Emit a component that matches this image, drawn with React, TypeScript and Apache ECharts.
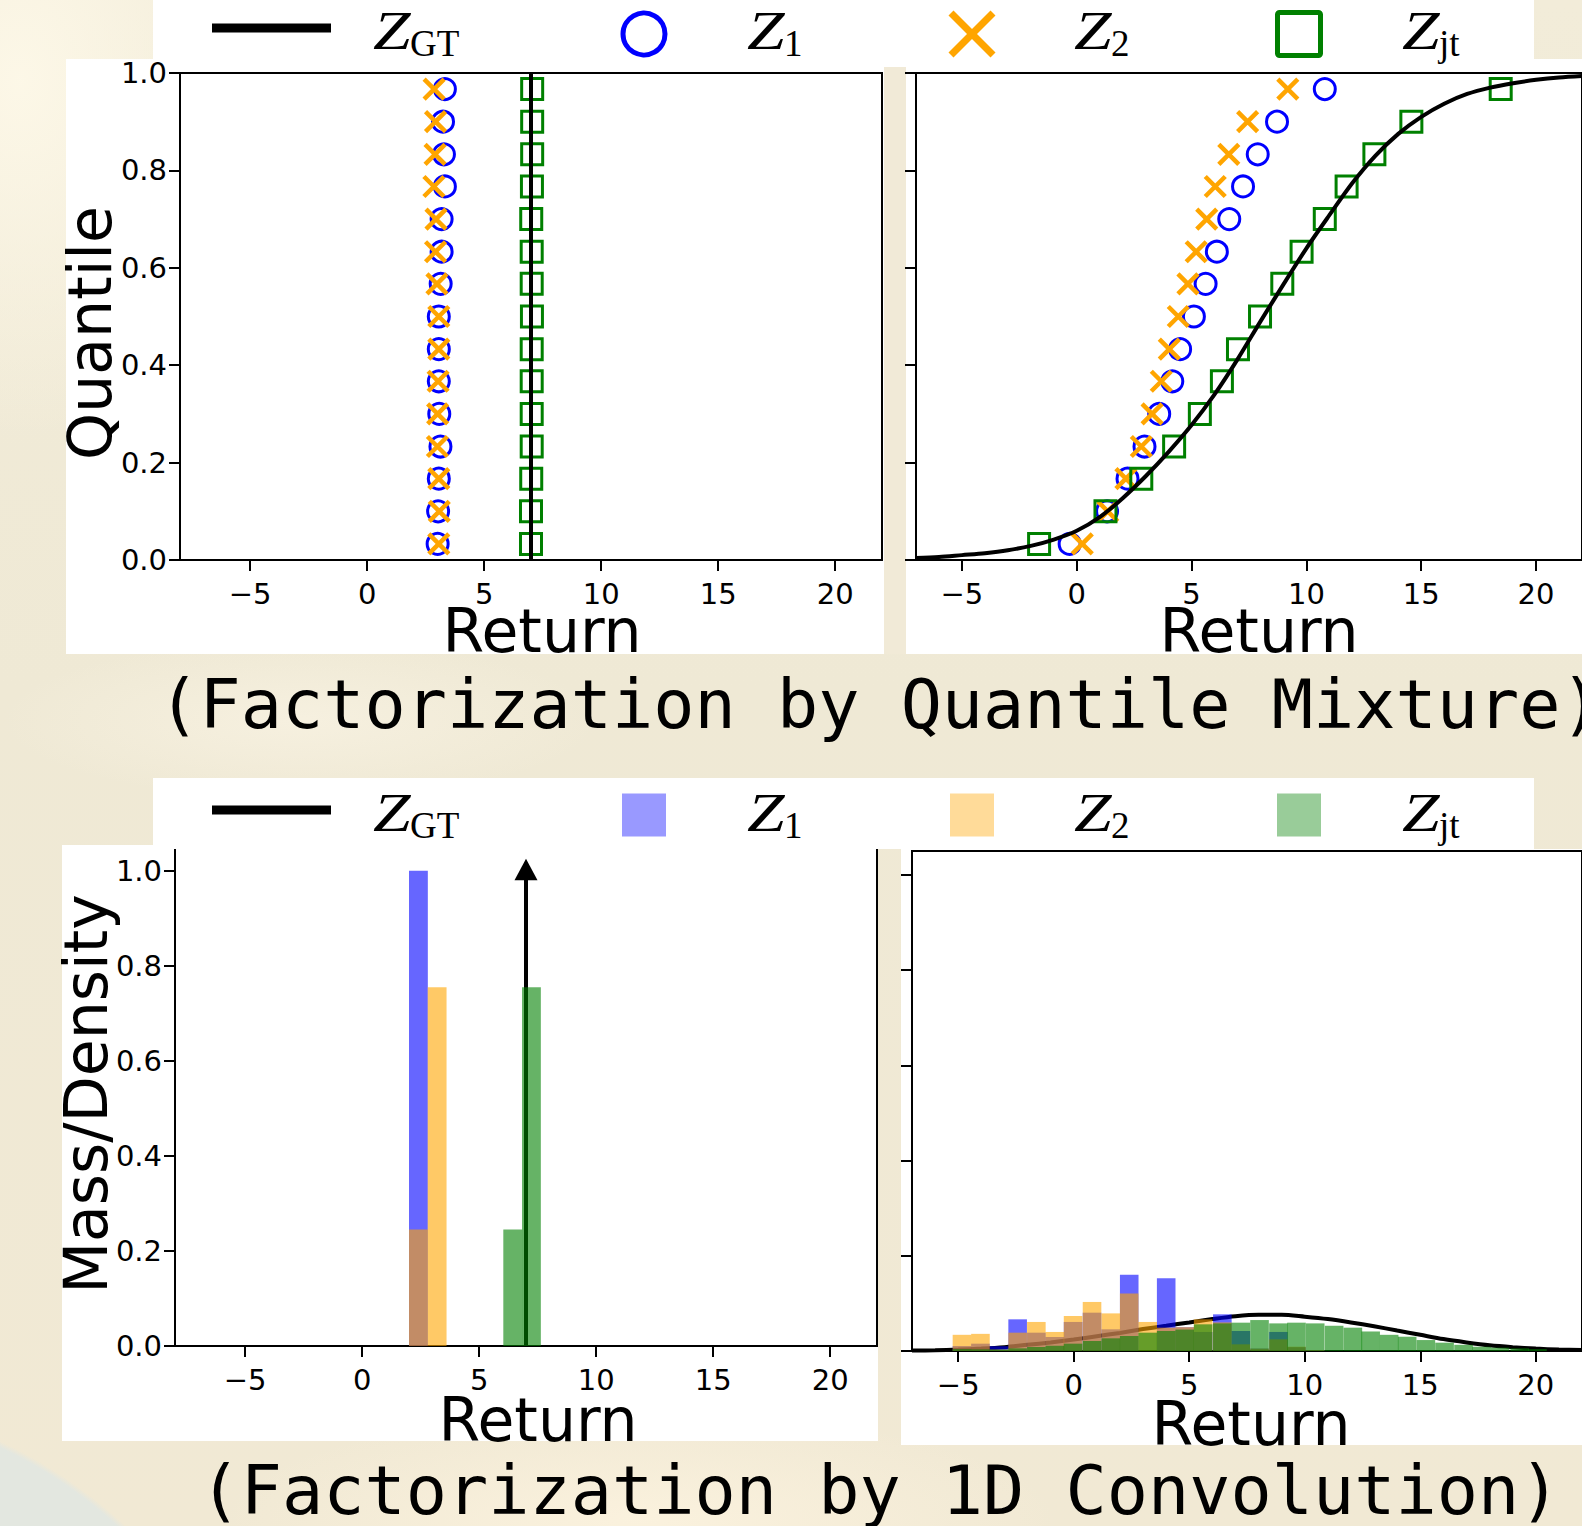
import React, { useEffect, useRef } from "react";
import * as echarts from "echarts";

const W = 1582;
const H = 1526;

// ---------- data ----------
const quantileLevels = [0.033, 0.1, 0.167, 0.233, 0.3, 0.367, 0.433, 0.5, 0.567, 0.633, 0.7, 0.767, 0.833, 0.9, 0.967];

// Factorization by quantile mixture, left panel
const qmLeftZ1 = [3.01, 3.03, 3.06, 3.13, 3.08, 3.06, 3.06, 3.06, 3.14, 3.18, 3.18, 3.32, 3.28, 3.24, 3.32];
const qmLeftZ2 = [3.06, 3.08, 3.06, 3.0, 3.01, 3.03, 3.06, 3.06, 2.98, 2.92, 2.94, 2.85, 2.9, 2.92, 2.86];
const qmLeftZjt = [7.0, 7.0, 7.01, 7.03, 7.03, 7.03, 7.03, 7.04, 7.03, 7.03, 7.01, 7.04, 7.05, 7.05, 7.05];
const qmLeftGtX = [7.0, 7.0];
const qmLeftGtY = [0, 1];

// Factorization by quantile mixture, right panel
const qmRightZ1 = [-0.31, 1.32, 2.21, 2.95, 3.59, 4.16, 4.5, 5.1, 5.61, 6.1, 6.64, 7.24, 7.88, 8.72, 10.8];
const qmRightZ2 = [0.24, 1.35, 2.14, 2.81, 3.28, 3.68, 4.03, 4.42, 4.84, 5.2, 5.66, 6.03, 6.62, 7.44, 9.19];
const qmRightZjt = [-1.64, 1.25, 2.81, 4.24, 5.36, 6.32, 7.02, 7.98, 8.95, 9.79, 10.8, 11.75, 12.96, 14.57, 18.46];
const gtX = [-7, -6, -5, -4, -3, -2, -1, 0, 1, 2, 3, 4, 5, 6, 7, 8, 9, 10, 11, 12, 13, 14, 15, 16, 17, 18, 19, 20, 21, 22];
const gtCdf = [0.004, 0.006, 0.01, 0.014, 0.02, 0.029, 0.042, 0.06, 0.088, 0.127, 0.172, 0.222, 0.277, 0.34, 0.412, 0.49, 0.566, 0.64, 0.708, 0.774, 0.83, 0.875, 0.91, 0.937, 0.957, 0.97, 0.979, 0.986, 0.991, 0.994];

// Factorization by 1D convolution, left panel (bin left edge, mass)
const convLeftBins = [2.0, 2.8, 6.03, 6.83];
const convLeftZ1 = [1.0, 0, 0, 0];
const convLeftZ2 = [0.245, 0.755, 0, 0];
const convLeftZjt = [0, 0, 0.245, 0.755];
const convLeftGtAt = [7.0];
const convLeftGtMass = [1.0];

// Factorization by 1D convolution, right panel
const binLeft = [-5.24, -4.44, -3.63, -2.83, -2.02, -1.22, -0.43, 0.39, 1.2, 2.0, 2.8, 3.6, 4.4, 5.2, 6.03, 6.83, 7.64, 8.46, 9.24, 10.05, 10.87, 11.68, 12.45, 13.25, 14.03, 14.84, 15.65, 16.47, 17.25, 18.05, 18.9, 19.67];
const BIN_W = 0.805;
const convRightZ1 = [0.0105, 0.0154, 0.01, 0.0665, 0.0385, 0.0294, 0.061, 0.0805, 0.0455, 0.16, 0, 0.153, 0.05, 0.04, 0.077, 0.042, 0.005, 0.04, 0.008, 0.002, 0, 0, 0, 0, 0, 0, 0, 0, 0, 0, 0, 0];
const convRightZ2 = [0.034, 0.036, 0.003, 0.0385, 0.061, 0.04, 0.0735, 0.103, 0.079, 0.121, 0.061, 0.049, 0.05, 0.0665, 0.06, 0.014, 0.005, 0.0245, 0.009, 0.002, 0, 0, 0, 0, 0, 0, 0, 0, 0, 0, 0, 0];
const convRightZjt = [0.004, 0.0035, 0.003, 0.0056, 0.0084, 0.011, 0.0154, 0.021, 0.0266, 0.0315, 0.0385, 0.042, 0.045, 0.056, 0.058, 0.0595, 0.065, 0.058, 0.0595, 0.058, 0.053, 0.049, 0.041, 0.034, 0.03, 0.023, 0.0175, 0.013, 0.009, 0.007, 0.0056, 0.004];
const gtDensity = [0.001, 0.0015, 0.003, 0.005, 0.008, 0.013, 0.018, 0.024, 0.031, 0.038, 0.046, 0.053, 0.06, 0.067, 0.073, 0.076, 0.076, 0.072, 0.067, 0.06, 0.052, 0.043, 0.034, 0.025, 0.018, 0.012, 0.008, 0.005, 0.003, 0.002];

const xTickValues = [-5, 0, 5, 10, 15, 20];
const yTickValues = [0, 0.2, 0.4, 0.6, 0.8, 1.0];

const titleTop = "(Factorization by Quantile Mixture)";
const titleBottom = "(Factorization by 1D Convolution)";
const legendSubs = ["GT", "1", "2", "jt"];

// ---------- styles ----------
const BLUE = "#0000ff";
const ORANGE = "#ffa500";
const GREEN = "#008000";
const BAR_BLUE = "rgba(0,0,255,0.6)";
const BAR_ORANGE = "rgba(255,165,0,0.6)";
const BAR_GREEN = "rgba(0,128,0,0.6)";
const PATCH_BLUE = "rgba(0,0,255,0.4)";
const PATCH_ORANGE = "rgba(255,165,0,0.4)";
const PATCH_GREEN = "rgba(0,128,0,0.4)";
const X_PATH = "path://M0,0L20,20M20,0L0,20";
const SANS = "DejaVu Sans";
const MONO = "DejaVu Sans Mono";
const SERIF = "Liberation Serif";

const fmtX = (v: number) => (v < 0 ? "\u2212" + Math.abs(v) : String(v));

function xAxis(gridIndex: number, min: number, max: number) {
  return {
    type: "value",
    gridIndex,
    min,
    max,
    axisLine: { show: true, onZero: false, lineStyle: { color: "#000", width: 2 } },
    axisTick: { show: true, length: 11, customValues: xTickValues, lineStyle: { color: "#000", width: 2 } },
    axisLabel: {
      show: true,
      customValues: xTickValues,
      fontFamily: SANS,
      fontSize: 29,
      color: "#000",
      margin: 19,
      formatter: fmtX,
    },
    splitLine: { show: false },
  };
}

function yAxis(gridIndex: number, max: number, showLabels: boolean) {
  return {
    type: "value",
    gridIndex,
    min: 0,
    max,
    axisLine: { show: true, onZero: false, lineStyle: { color: "#000", width: 2 } },
    axisTick: { show: true, length: 11, customValues: yTickValues, lineStyle: { color: "#000", width: 2 } },
    axisLabel: {
      show: showLabels,
      customValues: yTickValues,
      fontFamily: SANS,
      fontSize: 29,
      color: "#000",
      margin: 13,
      formatter: (v: number) => v.toFixed(1),
    },
    splitLine: { show: false },
  };
}

function grid(left: number, top: number, width: number, height: number) {
  return { left, top, width, height, show: true, borderColor: "#000", borderWidth: 2, backgroundColor: "transparent", containLabel: false };
}

function scatter(idx: number, xs: number[], symbol: string, size: number, color: string, bw: number, z: number) {
  return {
    type: "scatter",
    xAxisIndex: idx,
    yAxisIndex: idx,
    silent: true,
    data: xs.map((x, i) => [x, quantileLevels[i]]),
    symbol,
    symbolSize: size,
    itemStyle: { color: "rgba(0,0,0,0)", borderColor: color, borderWidth: bw, opacity: 1 },
    z,
  };
}

function bars(idx: number, lefts: number[], heights: number[], color: string, z: number) {
  return {
    type: "custom",
    xAxisIndex: idx,
    yAxisIndex: idx,
    silent: true,
    z,
    encode: { x: 0, y: 1 },
    data: lefts.map((l, i) => [l, heights[i]]),
    renderItem: (_p: any, api: any) => {
      const x0 = api.value(0);
      const h = api.value(1);
      if (!h) return null;
      const a = api.coord([x0, h]);
      const b = api.coord([x0 + BIN_W, 0]);
      return {
        type: "rect",
        shape: { x: a[0], y: a[1], width: b[0] - a[0], height: b[1] - a[1] },
        style: { fill: color },
      };
    },
  };
}

function txt(x: number, y: number, text: string, font: string, extra: any = {}) {
  return {
    type: "text",
    x,
    y,
    z: 100,
    silent: true,
    ...extra,
    style: {
      text,
      font,
      fill: "#000",
      align: extra.align || "left",
      textAlign: extra.align || "left",
      verticalAlign: "middle",
      textVerticalAlign: "middle",
    },
  };
}

function legend(dy: number, kind: "marker" | "patch") {
  const els: any[] = [];
  els.push({ type: "rect", z: 50, silent: true, shape: { x: 153, y: dy === 0 ? 0 : 778, width: 1381, height: dy === 0 ? 59 : 71 }, style: { fill: "#fff" } });
  els.push({ type: "line", z: 100, silent: true, shape: { x1: 212, y1: 28 + dy, x2: 331, y2: 28 + dy }, style: { stroke: "#000", lineWidth: 9 } });
  const cy = 34 + dy;
  if (kind === "marker") {
    els.push({ type: "circle", z: 100, silent: true, shape: { cx: 644, cy, r: 21 }, style: { fill: "none", stroke: BLUE, lineWidth: 5 } });
    els.push({ type: "line", z: 100, silent: true, shape: { x1: 951, y1: cy - 21, x2: 993, y2: cy + 21 }, style: { stroke: ORANGE, lineWidth: 7 } });
    els.push({ type: "line", z: 100, silent: true, shape: { x1: 993, y1: cy - 21, x2: 951, y2: cy + 21 }, style: { stroke: ORANGE, lineWidth: 7 } });
    els.push({ type: "rect", z: 100, silent: true, shape: { x: 1277.5, y: cy - 21.5, width: 43, height: 43, r: 2 }, style: { fill: "none", stroke: GREEN, lineWidth: 5 } });
  } else {
    const pc = 815 - 782 + dy;
    els.push({ type: "rect", z: 100, silent: true, shape: { x: 622, y: pc - 21.5, width: 44, height: 43 }, style: { fill: PATCH_BLUE } });
    els.push({ type: "rect", z: 100, silent: true, shape: { x: 950, y: pc - 21.5, width: 44, height: 43 }, style: { fill: PATCH_ORANGE } });
    els.push({ type: "rect", z: 100, silent: true, shape: { x: 1277, y: pc - 21.5, width: 44, height: 43 }, style: { fill: PATCH_GREEN } });
  }
  const zLeft = [373, 747, 1074, 1402];
  zLeft.forEach((zx, i) => {
    els.push(txt(zx, 49 + dy - 0.3375 * 54, "Z", `italic 54px "${SERIF}"`, { scaleX: 1.25 }));
    els.push(txt(zx + 37, 56 + dy - 0.3375 * 37, legendSubs[i], `37px "${SERIF}"`));
  });
  return els;
}

const BG = [
  "radial-gradient(circle at -200px 1873px, #e3e7e0 0px, #e3e7e0 470px, rgba(227,231,224,0) 476px)",
  "radial-gradient(ellipse 260px 360px at 20px 80px, rgba(253,248,232,0.95), rgba(253,248,232,0) 100%)",
  "radial-gradient(ellipse 420px 110px at 640px 1520px, rgba(251,242,222,0.95), rgba(251,242,222,0) 100%)",
  "radial-gradient(ellipse 300px 80px at 300px 720px, rgba(248,242,226,0.8), rgba(248,242,226,0) 100%)",
  "linear-gradient(180deg, #f2ecd9 0%, #efe9d5 45%, #f1e9d4 100%)",
].join(",");

function buildOption() {
  const graphics: any[] = [
    // panels
    { type: "rect", z: -10, silent: true, shape: { x: 66, y: 59, width: 1516, height: 595 }, style: { fill: "#fff" } },
    { type: "rect", z: -9, silent: true, shape: { x: 884, y: 67, width: 22, height: 587 }, style: { fill: "#f1ead7" } },
    { type: "rect", z: -10, silent: true, shape: { x: 62, y: 845, width: 816, height: 596 }, style: { fill: "#fff" } },
    { type: "rect", z: -10, silent: true, shape: { x: 901, y: 849, width: 681, height: 596 }, style: { fill: "#fff" } },
    ...legend(0, "marker"),
    ...legend(782, "patch"),
    // axis titles
    txt(542, 631, "Return", `60px "${SANS}"`, { align: "center" }),
    txt(1259, 631, "Return", `60px "${SANS}"`, { align: "center" }),
    txt(538, 1420, "Return", `60px "${SANS}"`, { align: "center" }),
    txt(1251, 1424, "Return", `60px "${SANS}"`, { align: "center" }),
    txt(90, 333, "Quantile", `60px "${SANS}"`, { align: "center", rotation: Math.PI / 2 }),
    txt(86, 1094, "Mass/Density", `60px "${SANS}"`, { align: "center", rotation: Math.PI / 2 }),
    // titles
    txt(880, 728 - 0.346 * 68.5, titleTop, `68.5px "${MONO}"`, { align: "center" }),
    txt(880, 1514 - 0.346 * 68.5, titleBottom, `68.5px "${MONO}"`, { align: "center" }),
  ];

  return {
    animation: false,
    backgroundColor: "transparent",
    textStyle: { fontFamily: SANS },
    grid: [grid(180, 73, 702, 487), grid(916, 73, 679, 487), grid(175, 847, 702, 499), grid(912, 851, 676, 500)],
    xAxis: [xAxis(0, -8, 22), xAxis(1, -7, 22), xAxis(2, -8, 22), xAxis(3, -7, 22)],
    yAxis: [yAxis(0, 1, true), yAxis(1, 1, false), yAxis(2, 1.05, true), yAxis(3, 1.05, false)],
    graphic: { elements: graphics },
    series: [
      // top-left
      scatter(0, qmLeftZ1, "circle", 21, BLUE, 3, 3),
      scatter(0, qmLeftZ2, X_PATH, 20, ORANGE, 4.5, 4),
      scatter(0, qmLeftZjt, "rect", 21, GREEN, 3, 5),
      {
        type: "line", xAxisIndex: 0, yAxisIndex: 0, silent: true, z: 6,
        data: qmLeftGtX.map((x, i) => [x, qmLeftGtY[i]]),
        symbol: "none", showSymbol: false, lineStyle: { color: "#000", width: 4 },
      },
      // top-right
      scatter(1, qmRightZ1, "circle", 21, BLUE, 3, 3),
      scatter(1, qmRightZ2, X_PATH, 20, ORANGE, 4.5, 4),
      scatter(1, qmRightZjt, "rect", 21, GREEN, 3, 5),
      {
        type: "line", xAxisIndex: 1, yAxisIndex: 1, silent: true, z: 6,
        data: gtX.map((x, i) => [x, gtCdf[i]]),
        smooth: 0.3, symbol: "none", showSymbol: false, lineStyle: { color: "#000", width: 4 },
      },
      // bottom-left
      {
        type: "custom", xAxisIndex: 2, yAxisIndex: 2, silent: true, z: 2,
        encode: { x: 0, y: 1 },
        data: convLeftGtAt.map((x, i) => [x, convLeftGtMass[i]]),
        renderItem: (_p: any, api: any) => {
          const base = api.coord([api.value(0), 0]);
          const top = api.coord([api.value(0), api.value(1)]);
          return {
            type: "group",
            children: [
              { type: "line", shape: { x1: base[0], y1: base[1], x2: top[0], y2: top[1] + 8 }, style: { stroke: "#000", lineWidth: 4 } },
              {
                type: "polygon",
                shape: { points: [[top[0], top[1] - 12], [top[0] - 11.5, top[1] + 9.5], [top[0] + 11.5, top[1] + 9.5]] },
                style: { fill: "#000" },
              },
            ],
          };
        },
      },
      bars(2, convLeftBins, convLeftZ1, BAR_BLUE, 3),
      bars(2, convLeftBins, convLeftZ2, BAR_ORANGE, 3),
      bars(2, convLeftBins, convLeftZjt, BAR_GREEN, 3),
      // bottom-right
      {
        type: "line", xAxisIndex: 3, yAxisIndex: 3, silent: true, z: 2,
        data: gtX.map((x, i) => [x, gtDensity[i]]),
        smooth: 0.3, symbol: "none", showSymbol: false, lineStyle: { color: "#000", width: 4 },
      },
      bars(3, binLeft, convRightZ1, BAR_BLUE, 3),
      bars(3, binLeft, convRightZ2, BAR_ORANGE, 3),
      bars(3, binLeft, convRightZjt, BAR_GREEN, 3),
    ],
  };
}

export default function App() {
  const ref = useRef<HTMLDivElement>(null);
  useEffect(() => {
    if (!ref.current) return;
    const chart = echarts.init(ref.current, null, { renderer: "svg", width: W, height: H });
    chart.setOption(buildOption() as any);
    return () => chart.dispose();
  }, []);
  return (
    <div
      ref={ref}
      style={{ position: "fixed", left: 0, top: 0, width: W, height: H, background: BG, overflow: "hidden" }}
    />
  );
}
